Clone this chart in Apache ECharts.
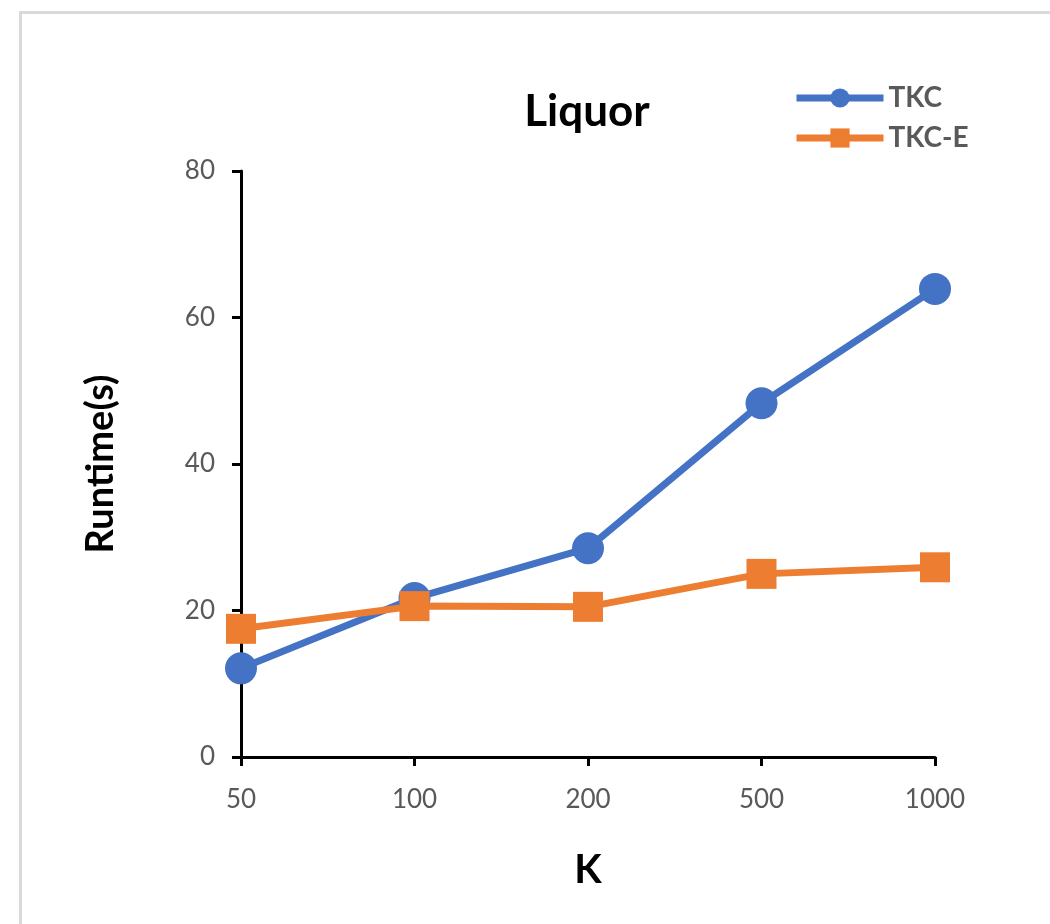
<!DOCTYPE html>
<html>
<head>
<meta charset="utf-8">
<script src="https://cdn.jsdelivr.net/npm/echarts@6/dist/echarts.min.js"></script>
<style>
html,body{margin:0;padding:0;background:#fff;overflow:hidden;}
#frame{position:absolute;left:19px;top:11px;width:1100px;height:1000px;border-left:3px solid #d9d9d9;border-top:3px solid #d9d9d9;}
#chart{position:absolute;left:0;top:0;width:1050px;height:924px;}
</style>
</head>
<body>
<div id="frame"></div>
<div id="chart"></div>
<script>
const categories = ['50', '100', '200', '500', '1000'];
const tkc = [12.1, 21.7, 28.5, 48.3, 63.9];
const tkcE = [17.5, 20.6, 20.5, 25.0, 25.9];
const yTicks = [0, 20, 40, 60, 80];

const FONT = 'Lato, "Open Sans", sans-serif';
const chart = echarts.init(document.getElementById('chart'), null, {renderer: 'canvas'});
chart.setOption({
  backgroundColor: 'transparent',
  animation: false,
  title: {
    text: 'Liquor',
    left: 582, top: 107,
    textAlign: 'center', textVerticalAlign: 'middle',
    textStyle: {fontFamily: FONT, fontWeight: 'bold', fontSize: 44, color: '#000'}
  },
  legend: {
    orient: 'vertical',
    left: 788, top: 79,
    itemWidth: 87, itemHeight: 24, itemGap: 12,
    lineStyle: {width: 7},
    textStyle: {fontFamily: FONT, fontWeight: 'bold', fontSize: 28, color: '#595959'},
    data: ['TKC', 'TKC-E']
  },
  grid: {left: 241, right: 115, top: 171, bottom: 167, containLabel: false},
  xAxis: {
    type: 'category',
    data: categories,
    boundaryGap: false,
    name: 'K',
    nameLocation: 'middle',
    nameGap: 93,
    nameTextStyle: {fontFamily: FONT, fontWeight: 'bold', fontSize: 40, color: '#000', verticalAlign: 'top'},
    axisLine: {lineStyle: {color: '#000', width: 3}},
    axisTick: {alignWithLabel: true, length: 9, lineStyle: {color: '#000', width: 3}},
    axisLabel: {fontFamily: FONT, fontSize: 26, color: '#595959', margin: 30},
    splitLine: {show: false}
  },
  yAxis: {
    type: 'value',
    min: yTicks[0], max: yTicks[yTicks.length - 1], interval: 20,
    name: 'Runtime(s)',
    nameLocation: 'middle',
    nameGap: 121,
    nameTextStyle: {fontFamily: FONT, fontWeight: 'bold', fontSize: 38, color: '#000'},
    axisLine: {show: true, lineStyle: {color: '#000', width: 3}},
    axisTick: {show: true, length: 9, lineStyle: {color: '#000', width: 3}},
    axisLabel: {fontFamily: FONT, fontSize: 26, color: '#595959', margin: 26},
    splitLine: {show: false}
  },
  series: [
    {
      name: 'TKC', type: 'line', data: tkc,
      symbol: 'circle', symbolSize: 32,
      lineStyle: {color: '#4472C4', width: 7},
      itemStyle: {color: '#4472C4'},
      z: 2
    },
    {
      name: 'TKC-E', type: 'line', data: tkcE,
      symbol: 'rect', symbolSize: 30,
      lineStyle: {color: '#ED7D31', width: 7},
      itemStyle: {color: '#ED7D31'},
      z: 3
    }
  ]
});
</script>
</body>
</html>
